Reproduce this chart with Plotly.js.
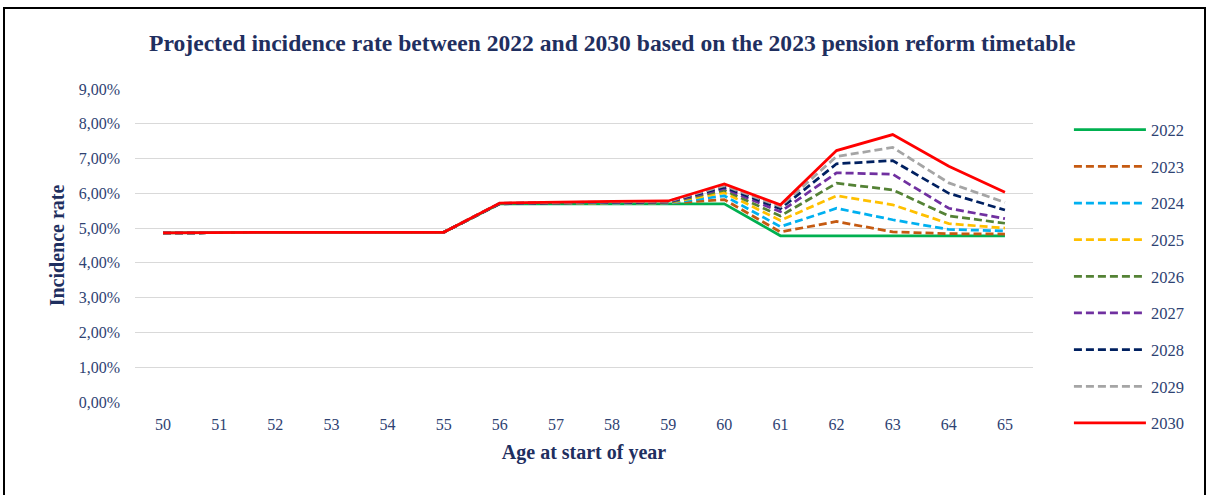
<!DOCTYPE html>
<html>
<head>
<meta charset="utf-8">
<script src="https://cdn.plot.ly/plotly-3.0.1.min.js"></script>
<style>
  html, body { margin: 0; padding: 0; background: #fff; overflow: hidden; }
  #frame { position: absolute; left: 3px; top: 7px; width: 1203px; height: 500px; border: 2px solid #000; border-bottom: none; box-sizing: border-box; pointer-events: none; z-index: 5; }
  #chart { position: absolute; left: 0; top: 0; width: 1210px; height: 495px; }
</style>
</head>
<body>
<div id="chart"></div>
<div id="frame"></div>
<script>
const ages = [50, 51, 52, 53, 54, 55, 56, 57, 58, 59, 60, 61, 62, 63, 64, 65];
const years = ['2022', '2023', '2024', '2025', '2026', '2027', '2028', '2029', '2030'];
const rate2022 = [4.86, 4.88, 4.88, 4.88, 4.88, 4.88, 5.70, 5.70, 5.70, 5.70, 5.70, 4.78, 4.78, 4.78, 4.78, 4.78];
const rate2023 = [4.86, 4.88, 4.88, 4.88, 4.88, 4.88, 5.70, 5.71, 5.71, 5.72, 5.82, 4.89, 5.19, 4.89, 4.84, 4.83];
const rate2024 = [4.86, 4.88, 4.88, 4.88, 4.88, 4.88, 5.70, 5.71, 5.72, 5.72, 5.93, 5.04, 5.57, 5.24, 4.96, 4.92];
const rate2025 = [4.86, 4.88, 4.88, 4.88, 4.88, 4.88, 5.71, 5.72, 5.73, 5.73, 6.02, 5.22, 5.93, 5.67, 5.13, 5.00];
const rate2026 = [4.86, 4.88, 4.88, 4.88, 4.88, 4.88, 5.71, 5.72, 5.73, 5.74, 6.09, 5.35, 6.29, 6.10, 5.35, 5.14];
const rate2027 = [4.86, 4.88, 4.88, 4.88, 4.88, 4.88, 5.71, 5.73, 5.74, 5.75, 6.14, 5.47, 6.59, 6.55, 5.57, 5.27];
const rate2028 = [4.86, 4.88, 4.88, 4.88, 4.88, 4.88, 5.71, 5.73, 5.75, 5.76, 6.18, 5.56, 6.85, 6.94, 6.00, 5.52];
const rate2029 = [4.86, 4.88, 4.88, 4.88, 4.88, 4.88, 5.72, 5.74, 5.76, 5.77, 6.22, 5.62, 7.06, 7.32, 6.30, 5.74];
const rate2030 = [4.86, 4.88, 4.88, 4.88, 4.88, 4.88, 5.72, 5.75, 5.77, 5.78, 6.27, 5.67, 7.23, 7.69, 6.78, 6.03];
const yTicks = [0, 1, 2, 3, 4, 5, 6, 7, 8, 9];
const yTickLabels = ['0,00%', '1,00%', '2,00%', '3,00%', '4,00%', '5,00%', '6,00%', '7,00%', '8,00%', '9,00%'];

const seriesData = [rate2022, rate2023, rate2024, rate2025, rate2026, rate2027, rate2028, rate2029, rate2030];
const colors = ['#00B050', '#C55A11', '#00B0F0', '#FFC000', '#548235', '#7030A0', '#002060', '#A5A5A5', '#FF0000'];
const dashes = ['solid', '8px,4px', '8px,4px', '8px,4px', '8px,4px', '8px,4px', '8px,4px', '8px,4px', 'solid'];

const navy = '#1F2F5F';
const tickColor = '#2E4272';
const serif = "'Liberation Serif', 'Times New Roman', serif";

const traces = years.map((yr, i) => ({
  x: ages,
  y: seriesData[i],
  name: yr,
  legendgroup: 'g' + yr,
  type: 'scatter',
  mode: 'lines',
  line: { color: colors[i], width: 2.75, dash: dashes[i] },
  hoverinfo: 'x+y+name'
}));

const layout = {
  width: 1210,
  height: 495,
  margin: { l: 135, r: 177, t: 89, b: 93 },
  paper_bgcolor: '#ffffff',
  plot_bgcolor: '#ffffff',
  font: { family: serif, color: tickColor, size: 16 },
  title: {
    text: '<b>Projected incidence rate between 2022 and 2030 based on the 2023 pension reform timetable</b>',
    font: { family: serif, size: 23.6, color: navy },
    x: 0.506, xanchor: 'center',
    y: 0.913, yanchor: 'middle'
  },
  xaxis: {
    type: 'linear',
    range: [49.5, 65.5],
    tickmode: 'array',
    tickvals: ages,
    ticktext: ages.map(String),
    showgrid: false,
    zeroline: false,
    showline: false,
    ticks: '',
    ticklabelstandoff: 11,
    tickfont: { family: serif, size: 16, color: tickColor },
    title: { text: '<b>Age at start of year</b>', font: { family: serif, size: 20, color: navy }, standoff: 12 }
  },
  yaxis: {
    range: [0, 9],
    tickmode: 'array',
    tickvals: yTicks,
    ticktext: yTickLabels,
    showgrid: true,
    gridcolor: '#D9D9D9',
    gridwidth: 1,
    zeroline: false,
    showline: false,
    ticks: '',
    ticklabelstandoff: 14,
    tickfont: { family: serif, size: 16, color: tickColor },
    title: { text: '<b>Incidence rate</b>', font: { family: serif, size: 20, color: navy }, standoff: 8 }
  },
  showlegend: true,
  legend: {
    x: 1.04, xanchor: 'left',
    y: 0.925, yanchor: 'top',
    maxheight: 420,
    font: { family: serif, size: 16.5, color: tickColor },
    tracegroupgap: 12.2,
    itemwidth: 72,
    bgcolor: 'rgba(0,0,0,0)'
  }
};

Plotly.newPlot('chart', traces, layout, { displayModeBar: false, staticPlot: true });
</script>
</body>
</html>
